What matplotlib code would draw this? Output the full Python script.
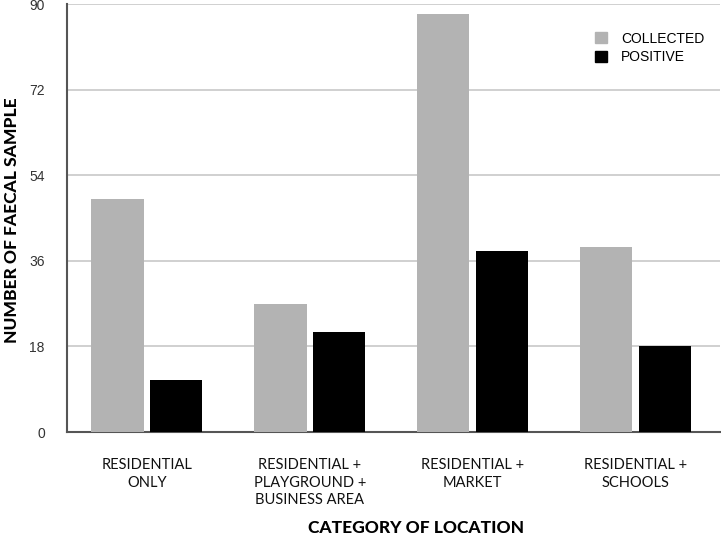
import numpy as np
from matplotlib import pyplot as plt
from matplotlib.patches import Patch

categories = ["RESIDENTIAL\nONLY",
              "RESIDENTIAL +\nPLAYGROUND +\nBUSINESS AREA",
              "RESIDENTIAL +\nMARKET",
              "RESIDENTIAL +\nSCHOOLS"]
collected = [49, 27, 88, 39]
positive = [11, 21, 38, 18]
y_ticks = [0, 18, 36, 54, 72, 90]

fig = plt.figure(figsize=(7.21, 5.39), dpi=100)
ax = fig.add_axes([0.093, 0.1985, 0.906, 0.794])

x = np.arange(len(categories))
w = 0.32
ax.bar(x - 0.18, collected, w, color="#b3b3b3", zorder=3)
ax.bar(x + 0.18, positive, w, color="black", zorder=3)

ax.set_xlim(-0.49, 3.52)
ax.set_ylim(0, 90)
ax.set_yticks(y_ticks)
ax.set_yticklabels([str(t) for t in y_ticks], fontsize=10, color="#333333",
                   family="Liberation Sans")
ax.tick_params(axis="y", length=0, pad=16)
ax.set_xticks(x)
ax.set_xticklabels(categories, fontsize=10.5, family="Lato", color="#111111",
                   linespacing=1.3)
ax.tick_params(axis="x", length=0, pad=19)
for lab in ax.get_xticklabels():
    lab.set_verticalalignment("top")

ax.yaxis.grid(True, color="#c8c8c8", linewidth=1.2, zorder=0)
ax.set_axisbelow(True)
for s in ["top", "right"]:
    ax.spines[s].set_visible(False)
ax.spines["left"].set_color("#555555")
ax.spines["bottom"].set_color("#555555")
ax.spines["left"].set_linewidth(1.5)
ax.spines["bottom"].set_linewidth(1.5)

fig.text(0.016, 0.592, "NUMBER OF FAECAL SAMPLE", rotation=90, fontsize=12.5,
         fontweight="black", family="Lato", ha="center", va="center")
fig.text(0.577, 0.02, "CATEGORY OF LOCATION", fontsize=12.5,
         fontweight="black", family="Lato", ha="center", va="center")

handles = [Patch(color="#b3b3b3", label="COLLECTED"),
           Patch(color="black", label="POSITIVE")]
ax.legend(handles=handles, loc="upper right", bbox_to_anchor=(0.995, 0.965),
          frameon=False, handlelength=0.9, handleheight=0.9,
          handletextpad=1.0, labelspacing=0.35,
          prop={"family": "Liberation Sans", "size": 10})

fig.savefig("out.png", dpi=100)
